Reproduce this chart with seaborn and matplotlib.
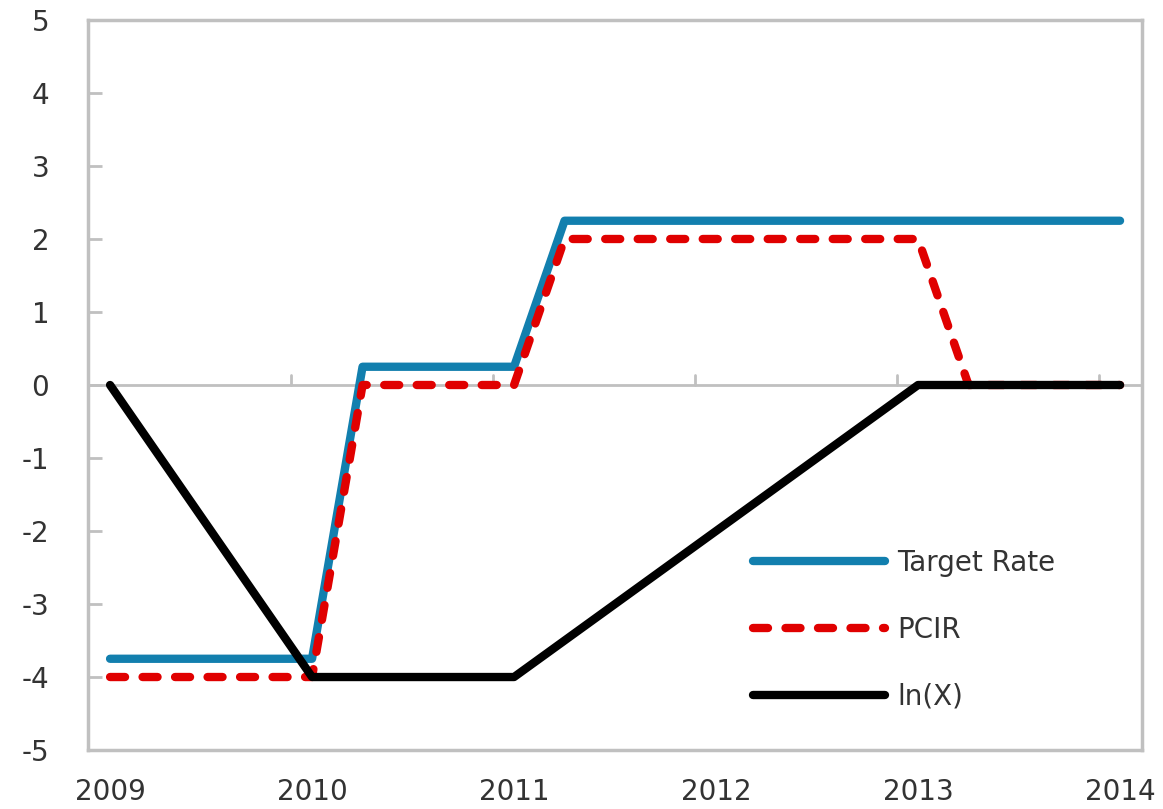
import numpy as np
import pandas as pd
import matplotlib
matplotlib.use("Agg")
import matplotlib.pyplot as plt
import seaborn as sns

# quarterly points, 2009Q1 .. 2014Q1
quarters = [2009 + 0.25 * i for i in range(21)]
target_rate = [-3.75, -3.75, -3.75, -3.75, -3.75, 0.25, 0.25, 0.25, 0.25,
               2.25, 2.25, 2.25, 2.25, 2.25, 2.25, 2.25, 2.25, 2.25, 2.25, 2.25, 2.25]
pcir = [-4, -4, -4, -4, -4, 0, 0, 0, 0,
        2, 2, 2, 2, 2, 2, 2, 2, 0, 0, 0, 0]
ln_x = [0, -1, -2, -3, -4, -4, -4, -4, -4,
        -3.5, -3, -2.5, -2, -1.5, -1, -0.5, 0, 0, 0, 0, 0]
year_labels = [2009, 2010, 2011, 2012, 2013, 2014]
y_ticks = list(range(-5, 6))

df = pd.DataFrame({"quarter": quarters, "Target Rate": target_rate,
                   "PCIR": pcir, "ln(X)": ln_x})

sns.set_theme(style="white")
plt.rcParams['font.family'] = ['DejaVu Sans']
plt.rcParams['axes.unicode_minus'] = False

fig = plt.figure(figsize=(11.63, 8.09), dpi=100)
ax = fig.add_axes([0.0757, 0.0729, 0.9063, 0.9024])

grey = "#c0c0c0"
ax.axhline(0, color=grey, lw=2, zorder=1)
# small marks on the zero line, as in the original
for yr in year_labels[1:]:
    ax.plot([yr - 0.105, yr - 0.105], [0, 0.14], color=grey, lw=2, zorder=1)

lw = 6.0
sns.lineplot(data=df, x="quarter", y="Target Rate", ax=ax, color="#127fae",
             lw=lw, label="Target Rate", solid_capstyle="round", zorder=3)
sns.lineplot(data=df, x="quarter", y="PCIR", ax=ax, color="#e00000",
             lw=lw, label="PCIR", zorder=4, dash_capstyle="round")
ax.lines[-1].set_dashes((1.8, 2.1))
sns.lineplot(data=df, x="quarter", y="ln(X)", ax=ax, color="black",
             lw=lw, label="ln(X)", solid_capstyle="round", zorder=5)

ax.set_xlim(2008.891, 2014.109)
ax.set_ylim(-5, 5)
ax.set_xticks(year_labels)
ax.set_xticklabels([str(y) for y in year_labels])
ax.set_yticks(y_ticks)
ax.set_xlabel("")
ax.set_ylabel("")

for s in ax.spines.values():
    s.set_color(grey)
    s.set_linewidth(2.5)

ax.tick_params(axis="y", direction="in", length=10, width=2, color=grey,
               labelsize=20, labelcolor="#333333", pad=28, left=True)
ax.tick_params(axis="x", length=0, labelsize=20, labelcolor="#333333", pad=20)

leg = ax.legend(loc="lower left", bbox_to_anchor=(0.607, 0.02), frameon=False,
                fontsize=20, handlelength=4.75, labelspacing=1.4,
                handletextpad=0.45, labelcolor="#333333")

fig.savefig("out.png", dpi=100)
